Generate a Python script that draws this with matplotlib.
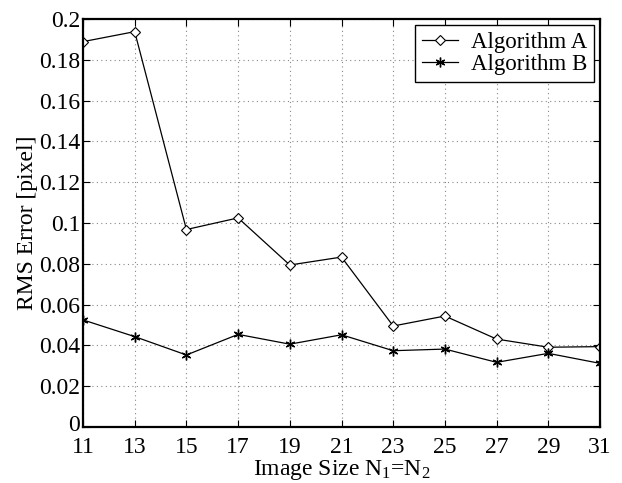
import matplotlib
matplotlib.use("Agg")
import matplotlib.pyplot as plt
import matplotlib.transforms as mtransforms

plt.rcParams["font.family"] = ["Liberation Serif", "DejaVu Serif"]
plt.rcParams["mathtext.fontset"] = "custom"
plt.rcParams["mathtext.rm"] = "Liberation Serif"
plt.rcParams["mathtext.it"] = "Liberation Serif:italic"

image_size = [11, 13, 15, 17, 19, 21, 23, 25, 27, 29, 31]
rms_a = [0.1889, 0.1938, 0.0968, 0.1025, 0.0794, 0.0833, 0.0495, 0.0544, 0.0431, 0.0391, 0.0394]
rms_b = [0.0525, 0.0443, 0.0353, 0.0454, 0.0406, 0.0452, 0.0374, 0.0382, 0.0317, 0.0361, 0.0312]
x_ticks = [11, 13, 15, 17, 19, 21, 23, 25, 27, 29, 31]
y_ticks = [0, 0.02, 0.04, 0.06, 0.08, 0.1, 0.12, 0.14, 0.16, 0.18, 0.2]
y_tick_labels = ["0", "0.02", "0.04", "0.06", "0.08", "0.1", "0.12", "0.14", "0.16", "0.18", "0.2"]

fig = plt.figure(figsize=(6.22, 4.83), dpi=100)
ax = fig.add_axes([83 / 622, 56 / 483, 517 / 622, 408 / 483])

ax.plot(image_size, rms_a, color="black", lw=0.9, marker="D", markersize=5,
        markerfacecolor="white", markeredgecolor="black", markeredgewidth=0.8,
        label="Algorithm A")
ax.plot(image_size, rms_b, color="black", lw=0.9, marker=(6, 2, 0), markersize=7,
        markeredgecolor="black", markeredgewidth=1.0, label="Algorithm B")

ax.set_xlim(11, 31)
ax.set_ylim(0, 0.2)
ax.set_xticks(x_ticks)
ax.set_yticks(y_ticks)
ax.set_yticklabels(y_tick_labels)
ax.tick_params(direction="in", top=True, right=True, labelsize=17, length=5,
               width=0.8)
ax.tick_params(axis="x", pad=7)
ax.tick_params(axis="y", pad=2)
ax.grid(True, color="#888888", linestyle=(0, (1, 3)), linewidth=0.8)
for s in ax.spines.values():
    s.set_linewidth(1.6)

# lift the bottom "0" label a little so it clears the first x label
zero_label = ax.get_yticklabels()[0]
zero_label.set_transform(zero_label.get_transform() +
                         mtransforms.ScaledTranslation(0, 3 / 72, fig.dpi_scale_trans))

ax.set_xlabel(r"Image Size N$_{1}$=N$_{2}$", fontsize=17, labelpad=0)
ax.set_ylabel("RMS Error [pixel]", fontsize=17, labelpad=1)

leg = ax.legend(loc="upper right", fontsize=16.5, frameon=True, fancybox=False,
                edgecolor="black", framealpha=1, borderaxespad=0.25,
                handlelength=1.6, borderpad=0.3, labelspacing=0.05,
                handletextpad=0.55)
leg.get_frame().set_linewidth(1.0)

fig.savefig("out.png", dpi=100)
